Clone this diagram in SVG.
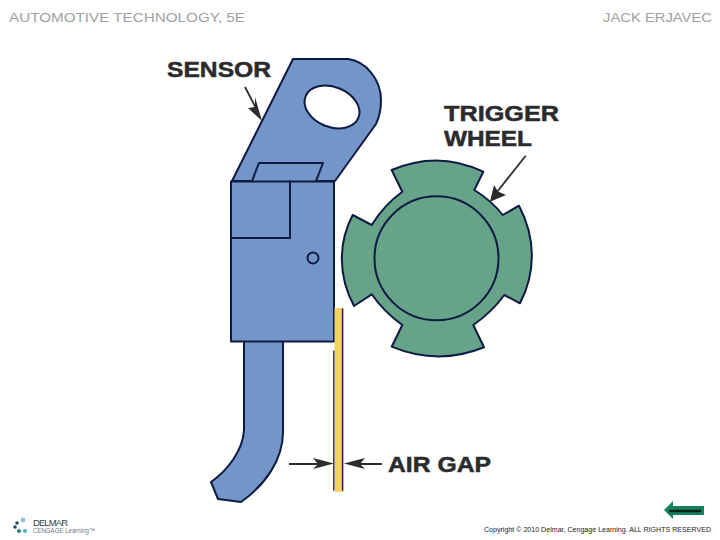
<svg xmlns="http://www.w3.org/2000/svg" width="720" height="540" viewBox="0 0 720 540">
<style>
.o{stroke:#0d1a42;stroke-width:2;stroke-linejoin:round;stroke-linecap:round}
.t{stroke:#15223f;stroke-width:1.300;stroke-linecap:round;fill:none}
.b{fill:#7395c8}.g{fill:#67a389}
.n{fill:none}
.l{font-family:"Liberation Sans",Arial,sans-serif;font-weight:700;fill:#2b2b2d;font-size:22px;stroke:#2b2b2d;stroke-width:.5px}
.h{font-family:"Liberation Sans",sans-serif;fill:#a0a0a0;font-size:12.500px}
.c{stroke:#2b2b2d;stroke-width:1.800;fill:none}
.a{fill:#2b2b2d}
</style>
<rect width="720" height="540" fill="#fff"/>
<g id="header">
<text class="h" x="9" y="21.500" textLength="236" lengthAdjust="spacingAndGlyphs">AUTOMOTIVE TECHNOLOGY, 5E</text>
<text class="h" x="603" y="21.500" textLength="109" lengthAdjust="spacingAndGlyphs">JACK ERJAVEC</text>
</g>
<g id="sensor">
<path class="o b" d="M293 59H348C366 61 381 80 381 100C381 108 380 116 376 124L335 181H232Z"/>
<ellipse cx="332" cy="107" rx="28.500" ry="20" transform="rotate(22 332 107)" fill="#fff" stroke="#0d1a42" stroke-width="2"/>
<path class="o b" d="M252 181L259 163H323L316 181"/>
<path class="o b" d="M244 341V430C243 450 228 470 211 482L218 499L241 502C265 485 283 460 283 432V341Z"/>
<rect class="o b" x="231" y="181.500" width="103" height="160"/>
<path class="o n" d="M231 238H290V181.500"/>
<circle class="o n" cx="313" cy="258" r="5.500"/>
</g>
<g id="air-gap-strip">
<rect x="334.500" y="308" width="9.500" height="184" fill="#f7d170"/>
<path class="t" d="M342.500 309V490M333.800 351V490"/>
</g>
<g id="trigger-wheel">
<path class="o g" d="M391.700 170Q438 150 483.300 171.700L474.300 190Q492 201 502.700 215L519 205.700C536 238 536 272 520 303.300L504.300 295Q492 312 473.300 325L484 347.300Q438 366 391.700 346.700L402.300 325Q384 312 371.700 294.300L354 306C338 276 338 243 352.700 215L371.700 225Q384 205 402.300 191.700Z"/>
<circle class="o n" cx="436.500" cy="258.300" r="62"/>
</g>
<g id="connectors">
<path class="c" d="M245 87L258 112"/>
<path class="a" d="M262 121L248 108L255 107L255 97Z"/>
<path class="c" d="M525.700 155.700L497 192"/>
<path class="a" d="M490 201.700L494 185L498 191.500L506 195Z"/>
<path class="c" d="M289 464H325M382 464H354"/>
<path class="a" d="M334 463.500L313 458L318 464L313 469Z"/>
<path class="a" d="M344 463.500L365 458L360 464L365 469Z"/>
</g>
<g id="labels">
<text class="l" x="167" y="77" textLength="104" lengthAdjust="spacingAndGlyphs">SENSOR</text>
<text class="l" x="444" y="121" textLength="115" lengthAdjust="spacingAndGlyphs">TRIGGER</text>
<text class="l" x="444" y="145.500" textLength="88" lengthAdjust="spacingAndGlyphs">WHEEL</text>
<text class="l" x="388" y="472" textLength="103" lengthAdjust="spacingAndGlyphs">AIR GAP</text>
</g>
<g id="footer-logo">
<circle cx="23" cy="520" r="2.400" fill="#8cc4dc"/>
<circle cx="17" cy="523" r="1.800" fill="#1d4f5e"/>
<circle cx="15" cy="527" r="1.800" fill="#1d4f5e"/>
<circle cx="19" cy="531" r="2" fill="#2a7f95"/>
<circle cx="25" cy="531" r="2" fill="#4fb0c8"/>
<text x="33" y="525.500" font-family="Liberation Sans,sans-serif" font-size="9.500" fill="#2d4450" textLength="35" lengthAdjust="spacing">DELMAR</text>
<text x="33" y="533" font-family="Liberation Sans,sans-serif" font-size="6.500" fill="#6b7a80" textLength="62" lengthAdjust="spacingAndGlyphs">CENGAGE Learning™</text>
</g>
<g id="copyright">
<text x="484" y="531.500" font-family="Liberation Sans,sans-serif" font-size="7.700" fill="#222" textLength="227" lengthAdjust="spacingAndGlyphs">Copyright © 2010 Delmar, Cengage Learning. ALL RIGHTS RESERVED</text>
</g>
<g id="back-button">
<path d="M664 510L673 501V506H704V515H673V519Z" fill="#14805f"/>
<path d="M669 511H701" stroke="#06231a" stroke-width="2.500"/>
</g>
</svg>
